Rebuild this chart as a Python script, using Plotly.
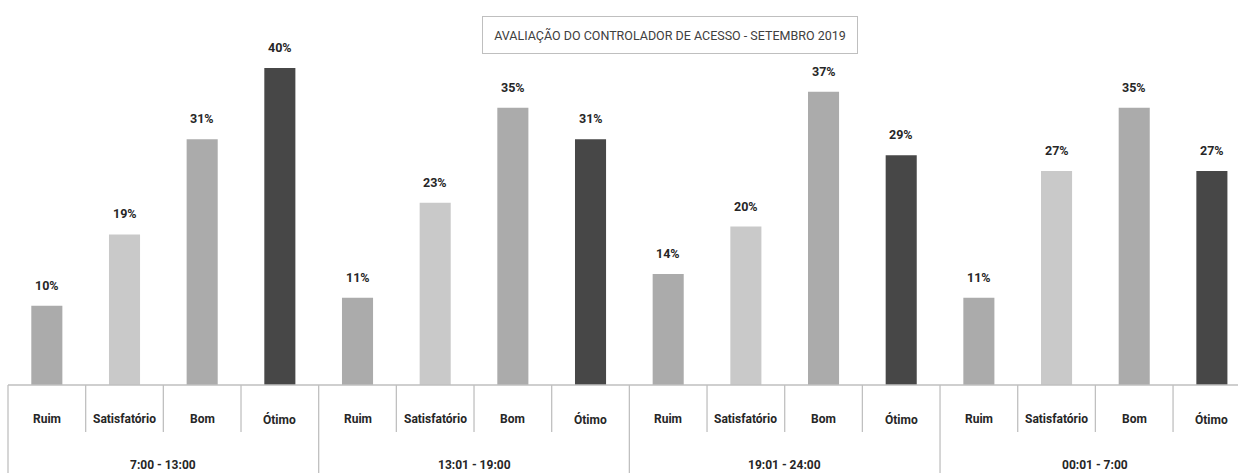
import plotly.graph_objects as go

groups = ["7:00 - 13:00", "13:01 - 19:00", "19:01 - 24:00", "00:01 - 7:00"]
categories = ["Ruim", "Satisfatório", "Bom", "Ótimo"]
ruim = [10, 11, 14, 11]
satisfatorio = [19, 23, 20, 27]
bom = [31, 35, 37, 35]
otimo = [40, 31, 29, 27]
title_text = "AVALIAÇÃO DO CONTROLADOR DE ACESSO - SETEMBRO 2019"

colors = {"Ruim": "#ABABAB", "Satisfatório": "#C9C9C9", "Bom": "#ABABAB", "Ótimo": "#474747"}
series = {"Ruim": ruim, "Satisfatório": satisfatorio, "Bom": bom, "Ótimo": otimo}

FONT = "Roboto, Liberation Sans, sans-serif"
W, H = 1238, 473
left_px = 8
bottom_px = 88
cat_px = 77.67
nc = len(categories)
n = len(groups) * nc
plot_w = W - left_px
xmax = -0.5 + plot_w / cat_px
plot_h = H - bottom_px


def xpaper(xv):
    return (xv + 0.5) / (xmax + 0.5)


xs, ys, cols, labels = [], [], [], []
for gi, g in enumerate(groups):
    for ci, c in enumerate(categories):
        xs.append(gi * nc + ci)
        ys.append(series[c][gi])
        cols.append(colors[c])
        labels.append(c)

fig = go.Figure()
fig.add_trace(go.Bar(x=xs, y=ys, marker=dict(color=cols, line=dict(width=0)), width=0.4,
                     hoverinfo="skip", showlegend=False))

annotations = []
shapes = []
for x, y in zip(xs, ys):
    annotations.append(dict(x=x, y=y, xref="x", yref="y", text=f"<b>{y}%</b>", showarrow=False,
                            yanchor="bottom", yshift=11, font=dict(family=FONT, size=12.5, color="#262626")))
for x, c in zip(xs, labels):
    annotations.append(dict(x=x, y=0, xref="x", yref="paper", yanchor="middle", yshift=-34,
                            text=f"<b>{c}</b>", showarrow=False,
                            font=dict(family=FONT, size=12, color="#262626")))
for gi, g in enumerate(groups):
    annotations.append(dict(x=gi * nc + (nc - 1) / 2, y=0, xref="x", yref="paper", yanchor="middle",
                            yshift=-80, text=f"<b>{g}</b>", showarrow=False,
                            font=dict(family=FONT, size=12, color="#262626")))

# dividers
for k in range(n + 1):
    xd = k - 0.5
    if xd > xmax:
        continue
    is_group = (k % nc == 0)
    y_end = -bottom_px if is_group else -47
    shapes.append(dict(type="line", xref="paper", yref="paper", x0=xpaper(xd), x1=xpaper(xd),
                       y0=0, y1=y_end / plot_h, line=dict(color="#C0C0C0", width=1.3)))
# baseline
shapes.append(dict(type="line", xref="paper", yref="paper", x0=0, x1=1, y0=0, y1=0,
                   line=dict(color="#BFBFBF", width=1.5)))

annotations.append(dict(x=(670 - left_px) / plot_w, y=(plot_h - 35) / plot_h, xref="paper", yref="paper",
                        text=title_text, showarrow=False, xanchor="center", yanchor="middle",
                        font=dict(family=FONT, size=12.5, color="#404040"),
                        bordercolor="#BFBFBF", borderwidth=1, width=372, height=34,
                        bgcolor="white"))

fig.update_layout(
    width=W, height=H,
    margin=dict(l=left_px, r=0, t=0, b=bottom_px),
    plot_bgcolor="white", paper_bgcolor="white",
    xaxis=dict(range=[-0.5, xmax], showticklabels=False, showgrid=False, zeroline=False, showline=False,
               fixedrange=True),
    yaxis=dict(range=[0, plot_h / 7.925], showticklabels=False, showgrid=False, zeroline=False,
               showline=False, fixedrange=True),
    annotations=annotations,
    shapes=shapes,
)

fig.write_html("out.html", config={"displayModeBar": False})
